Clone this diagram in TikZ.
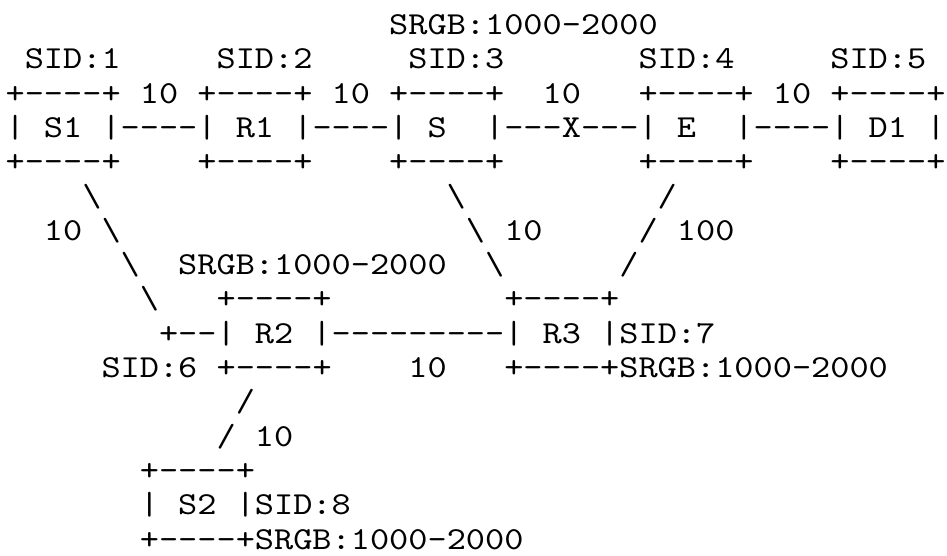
\documentclass[tikz,border=0pt]{standalone}
\usepackage{fontspec}
\setmonofont{lmmono10-regular.otf}[FakeStretch=1.14]
\tikzset{ascii/.style={inner sep=0pt, outer sep=0pt, anchor=base west,
  font=\ttfamily\fontsize{32.05pt}{34.3pt}\selectfont, text=black}}
\newcommand\ascii[4]{\node[ascii] (#1) at ({(5.6+#2*19.18)*1pt},{-(34.5+(#3-1)*34.3)*1pt}) {#4};}
\newcommand\bs{\textbackslash}
\begin{document}
\begin{tikzpicture}
\fill[white] (0,0) rectangle (947pt,-556pt);
\useasboundingbox (0,0) rectangle (947pt,-556pt);
% row 1
\ascii{srgbS}{20}{1}{SRGB:1000-2000}
% row 2
\ascii{sidA}{1}{2}{SID:1}
\ascii{sidB}{11}{2}{SID:2}
\ascii{sidC}{21}{2}{SID:3}
\ascii{sidD}{33}{2}{SID:4}
\ascii{sidE}{43}{2}{SID:5}
% row 3
\ascii{topA}{0}{3}{+----+ 10 +----+ 10 +----+}
\ascii{wSE}{28}{3}{10}
\ascii{topB}{33}{3}{+----+ 10 +----+}
% row 4
\ascii{midA}{0}{4}{| S1 |----| R1 |----| S}
\ascii{midB}{25}{4}{|---X---| E}
\ascii{midC}{38}{4}{|----| D1 |}
% row 5
\ascii{botS1}{0}{5}{+----+}
\ascii{botR1}{10}{5}{+----+}
\ascii{botS}{20}{5}{+----+}
\ascii{botE}{33}{5}{+----+}
\ascii{botD1}{43}{5}{+----+}
% row 6
\ascii{lnAa}{4}{6}{\bs}
\ascii{lnBa}{23}{6}{\bs}
\ascii{lnCa}{34}{6}{/}
% row 7
\ascii{wSR}{2}{7}{10}
\ascii{lnAb}{5}{7}{\bs}
\ascii{lnBb}{24}{7}{\bs\ 10}
\ascii{lnCb}{33}{7}{/ 100}
% row 8
\ascii{lnAc}{6}{8}{\bs}
\ascii{srgbR}{9}{8}{SRGB:1000-2000}
\ascii{lnBc}{25}{8}{\bs}
\ascii{lnCc}{32}{8}{/}
% row 9
\ascii{lnAd}{7}{9}{\bs}
\ascii{topR2}{11}{9}{+----+}
\ascii{topR3}{26}{9}{+----+}
% row 10
\ascii{midR}{8}{10}{+--| R2 |---------| R3 |SID:7}
% row 11
\ascii{botR2}{5}{11}{SID:6 +----+}
\ascii{wRR}{21}{11}{10}
\ascii{botR3}{26}{11}{+----+SRGB:1000-2000}
% rows 12-16
\ascii{lnDa}{12}{12}{/}
\ascii{lnDb}{11}{13}{/ 10}
\ascii{topS2}{7}{14}{+----+}
\ascii{midS2}{7}{15}{| S2 |SID:8}
\ascii{botS2}{7}{16}{+----+SRGB:1000-2000}
\end{tikzpicture}
\end{document}
